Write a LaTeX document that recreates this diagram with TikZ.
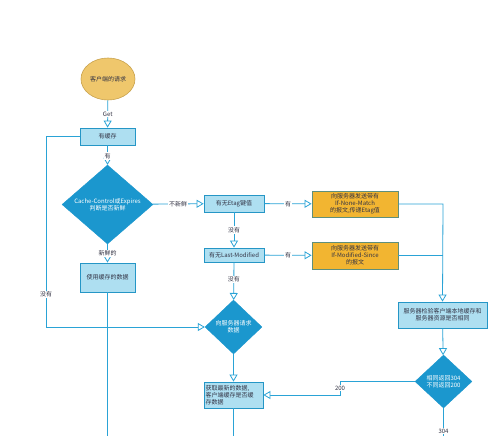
\documentclass[tikz,border=0pt]{standalone}
\usepackage{fontspec}
\setmainfont{Noto Sans CJK SC}
\usetikzlibrary{shapes.geometric,arrows.meta}
\definecolor{lineblue}{HTML}{2AA3D6}
\definecolor{boxfill}{HTML}{AEDFF1}
\definecolor{boxdraw}{HTML}{2596C6}
\definecolor{diafill}{HTML}{1B97CE}
\definecolor{yelfill}{HTML}{F2B531}
\definecolor{yeldraw}{HTML}{5E8F7C}
\definecolor{ellfill}{HTML}{EFC76C}
\definecolor{elldraw}{HTML}{C9A24C}
\definecolor{txt}{HTML}{333344}
\tikzset{
  every node/.style={font=\fontsize{6}{7}\selectfont, text=txt},
  sbox/.style={draw=boxdraw, fill=boxfill, line width=0.8pt, rectangle, inner sep=1pt, align=center},
  ybox/.style={draw=yeldraw, fill=yelfill, line width=0.8pt, rectangle, inner sep=1pt, align=center},
  dbox/.style={diamond, fill=diafill, draw=diafill, inner sep=0pt, align=center, text=white},
  conn/.style={draw=lineblue, line width=0.8pt},
  arr/.style={conn, -{Triangle[open, length=7pt, width=8pt, fill=white]}},
  lab/.style={fill=white, inner sep=1pt}
}
\begin{document}
\begin{tikzpicture}[x=1pt,y=-1pt]
\useasboundingbox (0,0) rectangle (500,436);
\fill[white] (0,0) rectangle (500,436);

\node[ellipse, draw=elldraw, fill=ellfill, line width=0.6pt, minimum width=54pt, minimum height=42pt, inner sep=0pt] (start) at (108,79) {客户端的请求};
\node[sbox, minimum width=55pt, minimum height=17pt] (cache) at (107.5,136.5) {有缓存};
\node[dbox, minimum width=91pt, minimum height=55pt] (d1) at (107.5,204.5) {Cache-Control或Expires\\判断是否新鲜};
\node[sbox, minimum width=55pt, minimum height=29pt] (use) at (107.5,277.5) {使用缓存的数据};
\node[sbox, minimum width=60pt, minimum height=17pt] (etag) at (234,203.5) {有无Etag键值};
\node[sbox, minimum width=60pt, minimum height=14pt] (lm) at (234,255) {有无Last-Modified};
\node[ybox, minimum width=86pt, minimum height=26pt] (y1) at (355,204) {向服务器发送带有\\If-None-Match\\的报文,传递Etag值};
\node[ybox, minimum width=86pt, minimum height=27pt] (y2) at (355,255.5) {向服务器发送带有\\If-Modified-Since\\的报文};
\node[dbox, minimum width=57pt, minimum height=54pt] (d2) at (233.5,327) {向服务器请求\\数据};
\node[sbox, minimum width=59pt, minimum height=26pt, align=left, text width=56pt] (get) at (233.5,395) {获取最新的数据,\\客户端缓存是否缓\\存数据};
\node[sbox, minimum width=89pt, minimum height=26pt] (srv) at (442.5,315) {服务器检验客户端本地缓存和\\服务器资源是否相同};
\node[dbox, minimum width=57pt, minimum height=53pt] (d3) at (443.5,381.5) {相同返回304\\不同返回200};

\coordinate (b1) at (107.5,436);
\coordinate (b2) at (233.5,436);
\coordinate (b3) at (443.5,436);
\coordinate (lc1) at (46,136.5);
\coordinate (lc2) at (46,327);
\coordinate (rc1) at (443,204);
\coordinate (rc2) at (443,255.5);
\coordinate (mc1) at (340,381.5);
\coordinate (mc2) at (340,395);

\draw[arr] (start) -- node[lab]{Get} (cache);
\draw[arr] (cache) -- node[lab, pos=0.55]{有} (d1);
\draw[arr] (d1) -- node[lab]{新鲜的} (use);
\draw[conn] (use) -- (b1);
\draw[arr] (d1) -- node[lab, pos=0.5]{不新鲜} (etag);
\draw[arr] (etag) -- node[lab]{有} (y1);
\draw[arr] (etag) -- node[lab]{没有} (lm);
\draw[arr] (lm) -- node[lab]{有} (y2);
\draw[arr] (lm) -- node[lab, pos=0.45]{没有} (d2);
\draw[arr] (d2) -- (get);
\draw[conn] (get) -- (b2);
\draw[arr] (cache.west) -- (lc1) -- node[lab, pos=0.83]{没有} (lc2) -- (d2.west);
\draw[arr] (y1.east) -- (rc1) -- (srv.north);
\draw[conn] (y2.east) -- (rc2);
\draw[arr] (srv) -- (d3);
\draw[conn] (d3) -- node[lab, pos=0.83]{304} (b3);
\draw[arr] (d3.west) -- (mc1) -- node[lab]{200} (mc2) -- (get.east);
\end{tikzpicture}
\end{document}
